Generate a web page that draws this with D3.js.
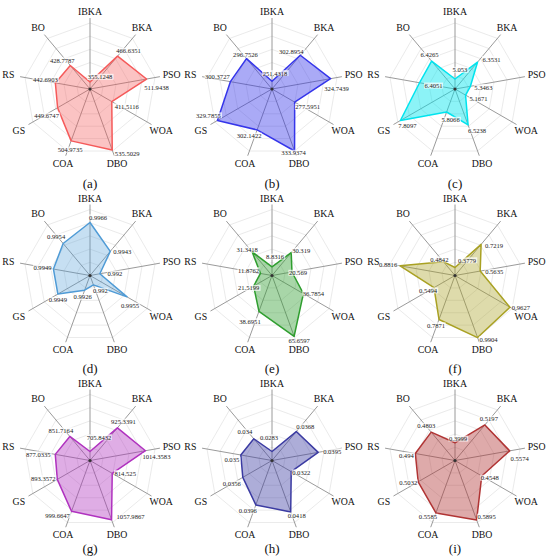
<!DOCTYPE html>
<html><head><meta charset="utf-8">
<script src="https://cdn.jsdelivr.net/npm/d3@7"></script>
<style>body{margin:0;background:#fff} svg{display:block}</style>
</head><body><svg id="c" width="550" height="556"></svg>
<script>
// ---- data ----
const axes = ["IBKA","BKA","PSO","WOA","DBO","COA","GS","RS","BO"];
const panelTags = ["(a)","(b)","(c)","(d)","(e)","(f)","(g)","(h)","(i)"];
const valuesA = [355.1248, 466.6351, 511.9438, 411.5116, 535.5029, 504.9735, 449.6747, 442.6903, 428.7787];
const valuesB = [251.4318, 302.8954, 324.7439, 277.5951, 333.9374, 302.1422, 329.7855, 300.3727, 296.7526];
const valuesC = [5.053, 6.3531, 5.3463, 5.1671, 6.5238, 5.8066, 7.8097, 6.4051, 6.4265];
const valuesD = [0.9966, 0.9943, 0.992, 0.9955, 0.992, 0.9926, 0.9949, 0.9949, 0.9954];
const valuesE = [8.8316, 30.319, 20.569, 36.7854, 65.6597, 38.6951, 21.5199, 11.8762, 31.3418];
const valuesF = [0.3779, 0.7219, 0.5635, 0.9627, 0.9904, 0.7871, 0.5494, 0.8816, 0.4842];
const valuesG = [705.8432, 925.3391, 1014.3583, 814.525, 1057.9867, 999.6647, 893.3572, 877.0335, 851.7164];
const valuesH = [0.0283, 0.0368, 0.0395, 0.0322, 0.0418, 0.0396, 0.0356, 0.035, 0.034];
const valuesI = [0.3999, 0.5197, 0.5574, 0.4548, 0.5895, 0.5585, 0.5032, 0.494, 0.4803];
// radial axis limits (inner, outer)
const radialDomains = [[333.3,538.6],[240.5,334],[4.533,7.965],[0.99093,0.99799],[0,67],
                       [0.2934,0.990],[647.1,1077.5],[0.02564,0.04514],[0.3262,0.601]];
const allValues = [valuesA,valuesB,valuesC,valuesD,valuesE,valuesF,valuesG,valuesH,valuesI];

// ---- style ----
const colors = ["#f55a5a","#3535ea","#00e4ee","#4f9bd6","#2f9e2f","#a9a123","#b032bf","#3b3ba2","#b03434"];
const fillOp = [0.36,0.42,0.45,0.32,0.42,0.38,0.4,0.42,0.42];
const labelOffsets = [
 [[10,-5],[11,-5],[10,9],[15,5],[15,4],[-1,9],[-11,8],[-10,-3],[-8,-5]],
 [[3,-8],[-9,-4],[6,10],[13,5],[-1,2],[-8,6],[-9,-5],[-13,-5],[-1,-4]],
 [[5,-9],[14,-3],[13,1],[13,4],[9,6],[4,8],[7,5],[14,3],[-2,-6]],
 [[8,-5],[12,0],[15,0],[3,9],[7,6],[-2,7],[0,6],[-11,-1],[-7,-7]],
 [[3,-10],[10,-2],[6,1],[10,0],[5,4],[-9,10],[-5,2],[-12,-3],[-5,-2]],
 [[12,-7],[13,1],[14,1],[11,0],[11,2],[-3,6],[-6,3],[-12,-1],[-4,-2]],
 [[9,-14],[6,-6],[11,6],[13,0],[19,-3],[-14,4],[-14,-1],[-17,0],[-9,-6]],
 [[-3,-14],[9,-5],[14,-1],[10,1],[6,4],[-8,6],[-11,6],[-9,5],[-9,-7]],
 [[3,-4],[4,-6],[10,8],[8,2],[10,-3],[-8,4],[-10,1],[-9,2],[-5,-6]]
];
const colX = [90, 272, 455];
const rowY = [89, 275.5, 460.5];
const tagY = [183, 368, 548];
const R = 66, spokeLen = 71, rings = 5;
const serif = "Liberation Serif, Times New Roman, serif";

const svg = d3.select("#c");
const angle = d3.scaleBand().domain(axes).range([0, 2*Math.PI]).align(0).paddingInner(0).paddingOuter(0);

allValues.forEach((vals, p) => {
  const cx = colX[p%3], cy = rowY[Math.floor(p/3)];
  const g = svg.append("g").attr("transform", `translate(${cx},${cy})`);
  const r = d3.scaleLinear().domain(radialDomains[p]).range([0, R]);

  // grid rings
  const ringLine = d3.lineRadial().angle(a => angle(a)).curve(d3.curveLinearClosed);
  for (let k = 1; k <= rings; k++) {
    g.append("path").attr("d", ringLine.radius(R*k/rings)(axes))
      .attr("fill","none").attr("stroke","#e4e4e4").attr("stroke-width",0.8);
  }
  // spokes
  axes.forEach(a => {
    const [x,y] = d3.pointRadial(angle(a), spokeLen);
    g.append("line").attr("x1",0).attr("y1",0).attr("x2",x).attr("y2",y)
      .attr("stroke","#8f8f8f").attr("stroke-width",0.9);
  });
  // data polygon
  const poly = d3.lineRadial().angle((d,i) => angle(axes[i])).radius(d => r(d)).curve(d3.curveLinearClosed);
  g.append("path").attr("d", poly(vals))
    .attr("fill", colors[p]).attr("fill-opacity", fillOp[p])
    .attr("stroke", colors[p]).attr("stroke-width", 1.5).attr("stroke-linejoin","round");
  g.append("circle").attr("r",1.6).attr("fill","#333");

  // value labels
  vals.forEach((v,i) => {
    const [x,y] = d3.pointRadial(angle(axes[i]), r(v));
    const [ox,oy] = labelOffsets[p][i];
    const lg = g.append("g");
    const t = lg.append("text").attr("x", x+ox).attr("y", y+oy).attr("dy","0.35em")
      .attr("text-anchor","middle").style("font-family",serif).attr("font-size",6.6)
      .attr("fill","#222").text(String(v));
    const bb = t.node().getBBox();
    lg.insert("rect","text").attr("x",bb.x-0.5).attr("y",bb.y+0.5).attr("width",bb.width+1).attr("height",bb.height-1)
      .attr("fill","#fff").attr("fill-opacity",0.7);
  });

  // axis labels
  axes.forEach(a => {
    const th = angle(a);
    const lr = 77 + 6*Math.abs(Math.sin(th));
    const [x,y] = d3.pointRadial(th, lr);
    g.append("text").attr("x",x).attr("y",y).attr("dy","0.35em").attr("text-anchor","middle")
      .style("font-family",serif).attr("font-size",9.8).attr("fill","#111").text(a);
  });

  svg.append("text").attr("x", cx).attr("y", tagY[Math.floor(p/3)]).attr("dy","0.35em")
    .attr("text-anchor","middle").style("font-family",serif).attr("font-size",13)
    .attr("fill","#111").text(panelTags[p]);
});
</script></body></html>
